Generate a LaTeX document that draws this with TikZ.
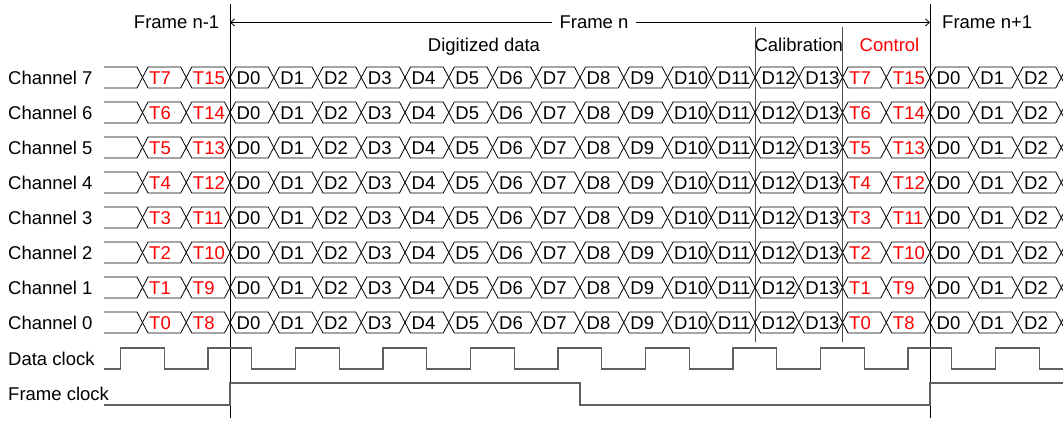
\documentclass[tikz,border=0pt]{standalone}
\usepackage{fontspec}
\setmainfont{Liberation Sans}
\usetikzlibrary{arrows.meta}
\definecolor{tred}{RGB}{255,0,0}
\definecolor{clkgray}{RGB}{95,95,95}

\begin{document}
\begin{tikzpicture}[x=1pt,y=-1pt,
  lbl/.style={font=\fontsize{18.5}{21}\selectfont, inner sep=0pt},
  busline/.style={draw=black, line width=0.8pt, line join=miter},
  clkline/.style={draw=clkgray, line width=1.4pt},
  frameline/.style={draw=black, line width=0.9pt},
  calline/.style={draw=black!70, line width=0.9pt},
  arr/.style={draw=black, line width=0.8pt, -{Straight Barb[length=4pt,width=7pt]}},
]
\useasboundingbox (0,0) rectangle (1063,421);
\clip (0,0) rectangle (1063,421);

% ---- frame and section boundaries ----
\draw[frameline] (230,4) -- (230,418);
\draw[frameline] (930,4) -- (930,418);
\draw[calline] (755,27) -- (755,342);
\draw[calline] (842.5,27) -- (842.5,342);

% ---- frame span arrow and headings ----
\node[lbl, inner xsep=7pt] (fn) at (594,22.5) {Frame n};
\coordinate (fs) at (230,22.5);
\coordinate (fe) at (930,22.5);
\draw[arr] (fn) -- (fs);
\draw[arr] (fn) -- (fe);
\node[lbl, anchor=base east] (fprev) at (219.5,28.5) {Frame n-1};
\node[lbl, anchor=base west] (fnext) at (942,28.5) {Frame n+1};
\node[lbl, anchor=base] (dig) at (484,51.5) {Digitized data};
\node[lbl, anchor=base] (cal) at (798.75,51.5) {Calibration};
\node[lbl, anchor=base, text=tred] (ctl) at (889.5,51.5) {Control};

% ---- serial data lanes ----
\foreach \ch [count=\r from 0] in {7,6,5,4,3,2,1,0} {
  \pgfmathsetmacro\yc{77.5+35*\r}
  \pgfmathsetmacro\yt{\yc-10.5}
  \pgfmathsetmacro\yb{\yc+10.5}
  \pgfmathtruncatemacro\chh{\ch+8}
  \node[lbl, anchor=base west] (ch\ch) at (8,\yc+6.5) {Channel \ch};
  % idle lead-in
  \draw[busline] (104,\yt) -- (137,\yt) -- (142.5,\yc) -- (137,\yb) -- (104,\yb);
  % bit slots
  \foreach \i in {-2,...,18} {
    \pgfmathsetmacro\xa{230+43.75*\i}
    \pgfmathsetmacro\xb{\xa+43.75}
    \pgfmathtruncatemacro\k{\i<0 ? \i+16 : (\i>15 ? \i-16 : \i)}
    \pgfmathtruncatemacro\j{\i+2}
    \draw[busline] (\xa,\yc) -- (\xa+5.5,\yt) -- (\xb-5.5,\yt) -- (\xb,\yc)
                   -- (\xb-5.5,\yb) -- (\xa+5.5,\yb) -- cycle;
    \ifnum\k=14
      \node[lbl, anchor=base west, text=tred] (s\ch-\j) at (\xa+6.5,\yc+6.5) {T\ch};
    \else\ifnum\k=15
      \node[lbl, anchor=base west, text=tred] (s\ch-\j) at (\xa+6.5,\yc+6.5) {T\chh};
    \else
      \node[lbl, anchor=base west] (s\ch-\j) at (\xa+6.5,\yc+6.5) {D\k};
    \fi\fi
  }
  % next slot beginning at the right edge
  \draw[busline] (1072,\yt) -- (1066.75,\yt) -- (1061.25,\yc) -- (1066.75,\yb) -- (1072,\yb);
}

% ---- clocks ----
\node[lbl, anchor=base west] (dclk) at (8,365.5) {Data clock};
\node[lbl, anchor=base west] (fclk) at (8,400.5) {Frame clock};
\draw[clkline] (104,369)
  \foreach \j in {0,...,10} {
    -- (120.5+87.5*\j,369) -- (120.5+87.5*\j,348)
    -- (164.25+87.5*\j,348) -- (164.25+87.5*\j,369)
  } -- (1072,369);
\draw[clkline] (104,405) -- (230,405) -- (230,383) -- (580,383)
  -- (580,405) -- (930,405) -- (930,383) -- (1072,383);
\end{tikzpicture}
\end{document}
